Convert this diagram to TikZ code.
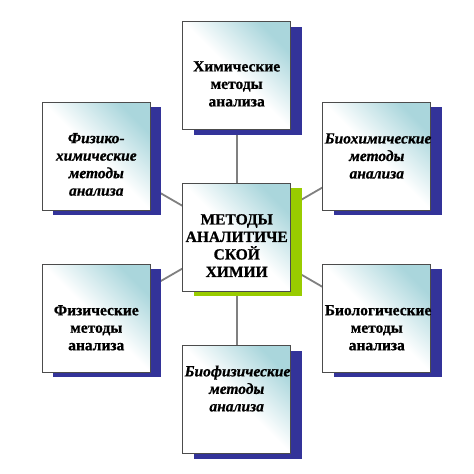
\documentclass[tikz,border=0pt]{standalone}
\usepackage{fontspec}
\setmainfont{Liberation Serif}
\newfontfamily\boxfont[BoldFeatures={FakeBold=0.8}, BoldItalicFeatures={FakeBold=0.8}]{Liberation Serif}
\usetikzlibrary{shadows,backgrounds}

\definecolor{boxteal}{RGB}{170,214,220}
\definecolor{shadowblue}{RGB}{51,51,153}
\definecolor{shadowgreen}{RGB}{153,204,0}
\definecolor{linkgray}{RGB}{128,128,128}

\tikzset{
  methodbox/.style={draw=black!70, line width=0.8pt, minimum width=108pt,
    minimum height=108pt, inner sep=2pt, text width=104pt, align=center,
    top color=boxteal, bottom color=white, middle color=white,
    shading angle=-45},
  slanted/.style={font=\boxfont\bfseries\itshape\fontsize{15.5}{17.5}\selectfont},
  blueshadow/.style={general shadow={fill=shadowblue, shadow xshift=11pt, shadow yshift=-5pt}},
  greenshadow/.style={general shadow={fill=shadowgreen, shadow xshift=11pt, shadow yshift=-5pt}},
  link/.style={draw=linkgray, line width=1.8pt}
}

\begin{document}
\begin{tikzpicture}[x=1pt, y=-1pt, font=\boxfont\bfseries\fontsize{15.5}{17.5}\selectfont]
\useasboundingbox (0,0) rectangle (474,474);
% centre
\node[methodbox, greenshadow] (core) at (236.7,237.2) {\rule{0pt}{27pt}МЕТОДЫ\\АНАЛИТИЧЕ\\СКОЙ\\ХИМИИ};
% methods round it
\node[methodbox, blueshadow] (chemical) at (236.7,75.5) {\rule{0pt}{27pt}Химические\\методы\\анализа};
\node[methodbox, blueshadow, slanted] (physchem) at (96.3,156) {\rule{0pt}{27pt}Физико-\\химические\\методы\\анализа};
\node[methodbox, blueshadow, slanted] (biochem) at (376.8,156) {Биохимические\\методы\\анализа};
\node[methodbox, blueshadow] (physical) at (96.3,318.3) {\rule{0pt}{29pt}Физические\\методы\\анализа};
\node[methodbox, blueshadow] (biological) at (376.8,318.3) {\rule{0pt}{29pt}Биологические\\методы\\анализа};
\node[methodbox, blueshadow, slanted] (biophys) at (236.7,399.5) {Биофизические\\методы\\анализа\rule[-22pt]{0pt}{0pt}};
% connectors behind the boxes
\begin{scope}[on background layer]
\draw[link] (core.center) -- (chemical.center);
\draw[link] (core.center) -- (physchem.center);
\draw[link] (core.center) -- (biochem.center);
\draw[link] (core.center) -- (physical.center);
\draw[link] (core.center) -- (biological.center);
\draw[link] (core.center) -- (biophys.center);
\end{scope}
\end{tikzpicture}
\end{document}
